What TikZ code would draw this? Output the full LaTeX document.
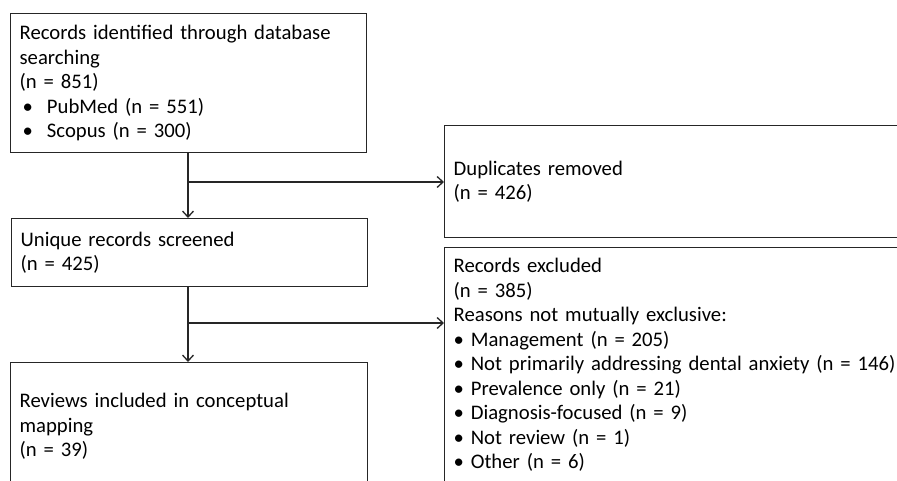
\documentclass[tikz,border=0pt]{standalone}
\usepackage{fontspec}
\setmainfont{Carlito}
\usetikzlibrary{arrows.meta}
\begin{document}
\begin{tikzpicture}[x=1pt,y=-1pt,
  box/.style={draw=black!85, line width=1.3pt, anchor=north west, align=left,
    inner xsep=9pt, inner ysep=0pt, font=\fontsize{20.7}{24.5}\selectfont},
  conn/.style={line width=1.3pt, draw=black!85},
  arr/.style={conn, -{Straight Barb[length=6pt,width=11pt]}}]
\clip (0,0) rectangle (897,481);
\fill[white] (0,0) rectangle (897,481);
\node[box, minimum width=356pt, minimum height=139pt, text width=338pt] (rec) at (10,13)
  {Records identified through database\\searching\\(n = 851)\\
   \hspace*{3pt}\textbullet\hspace{14pt}PubMed (n = 551)\\
   \hspace*{3pt}\textbullet\hspace{14pt}Scopus (n = 300)};
\node[box, minimum width=356pt, minimum height=68pt, text width=338pt] (uniq) at (11,218)
  {Unique records screened\\(n = 425)};
\node[box, minimum width=357pt, minimum height=128pt, text width=339pt] (incl) at (10,362)
  {Reviews included in conceptual\\mapping\\(n = 39)};
\node[box, minimum width=470pt, minimum height=112pt, text width=452pt] (dup) at (444,125)
  {Duplicates removed\\(n = 426)};
\node[box, minimum width=470pt, minimum height=235pt, text width=452pt] (exc) at (444,247)
  {Records excluded\\(n = 385)\\Reasons not mutually exclusive:\\
   \textbullet{} Management (n = 205)\\
   \textbullet{} Not primarily addressing dental anxiety (n = 146)\\
   \textbullet{} Prevalence only (n = 21)\\
   \textbullet{} Diagnosis-focused (n = 9)\\
   \textbullet{} Not review (n = 1)\\
   \textbullet{} Other (n = 6)};
\coordinate (j1) at (188,182);
\coordinate (j2) at (188,323);
\draw[conn] (rec.south -| j1) -- (j1);
\draw[arr] (j1) -- (j1 |- uniq.north);
\draw[arr] (j1) -- (dup.west |- j1);
\draw[conn] (uniq.south -| j2) -- (j2);
\draw[arr] (j2) -- (j2 |- incl.north);
\draw[arr] (j2) -- (exc.west |- j2);
\end{tikzpicture}
\end{document}
